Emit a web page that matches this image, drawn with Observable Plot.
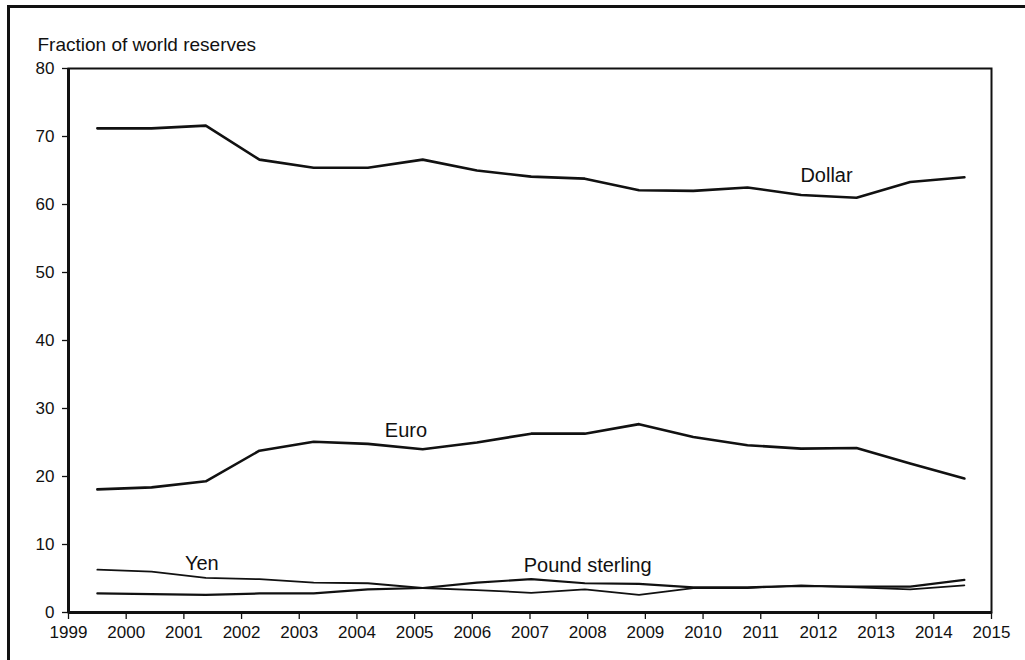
<!DOCTYPE html>
<html>
<head>
<meta charset="utf-8">
<script src="https://cdn.jsdelivr.net/npm/d3@7"></script>
<script src="https://cdn.jsdelivr.net/npm/@observablehq/plot@0.6"></script>
<style>
  html, body { margin: 0; padding: 0; background: #fff; }
  #wrap { position: relative; width: 1025px; height: 660px; overflow: hidden; }
  #border { position: absolute; left: 7px; top: 5px; width: 1040px; height: 680px;
            border-left: 3px solid #111; border-top: 3px solid #111; pointer-events: none; }
  #chart { position: absolute; left: 0; top: 0; }
</style>
</head>
<body>
<div id="wrap"><div id="chart"></div><div id="border"></div></div>
<script>
// Observation positions (decimal years, as drawn on the original axis)
const period = [1999.50, 2000.44, 2001.38, 2002.31, 2003.25, 2004.19, 2005.14, 2006.08,
                2007.02, 2007.95, 2008.89, 2009.83, 2010.77, 2011.70, 2012.66, 2013.59, 2014.53];
// Share of world reserves (%)
const dollar = [71.2, 71.2, 71.6, 66.6, 65.4, 65.4, 66.6, 65.0, 64.1, 63.8, 62.1, 62.0, 62.5, 61.4, 61.0, 63.3, 64.0];
const euro   = [18.1, 18.4, 19.3, 23.8, 25.1, 24.8, 24.0, 25.0, 26.3, 26.3, 27.7, 25.8, 24.6, 24.1, 24.2, 21.9, 19.7];
const yen    = [6.3, 6.0, 5.1, 4.9, 4.4, 4.3, 3.6, 3.3, 2.9, 3.4, 2.6, 3.6, 3.6, 4.0, 3.7, 3.4, 4.0];
const pound  = [2.8, 2.7, 2.6, 2.8, 2.8, 3.4, 3.6, 4.4, 4.9, 4.3, 4.2, 3.7, 3.7, 3.9, 3.8, 3.8, 4.8];

const seriesNames = ["Dollar", "Euro", "Yen", "Pound sterling"];
const seriesValues = [dollar, euro, yen, pound];
const seriesWidth = [2.6, 2.6, 1.8, 2.2];

// Inline series labels (position in data units)
const labelText = ["Dollar", "Euro", "Yen", "Pound sterling"];
const labelX = [2012.14, 2004.85, 2001.31, 2008.0];
const labelY = [64.3, 26.8, 7.2, 6.9];

const xTicks = d3.range(1999, 2016);
const yTicks = [0, 10, 20, 30, 40, 50, 60, 70, 80];
const yTitle = "Fraction of world reserves";

const rows = [];
seriesNames.forEach((name, s) => {
  period.forEach((p, i) => rows.push({series: name, t: p, v: seriesValues[s][i], w: seriesWidth[s]}));
});
const labels = labelText.map((t, i) => ({text: t, x: labelX[i], y: labelY[i]}));

const lineMarks = seriesNames.map((name, s) =>
  Plot.line(rows.filter(r => r.series === name), {
    x: "t", y: "v", stroke: "#111", strokeWidth: seriesWidth[s], curve: "linear"
  })
);

const chart = Plot.plot({
  width: 1025,
  height: 660,
  marginLeft: 68,
  marginRight: 34,
  marginTop: 68,
  marginBottom: 48,
  style: { background: "transparent", fontFamily: "'Liberation Sans', Arial, Helvetica, sans-serif", color: "#111" },
  x: { domain: [1999, 2015] },
  y: { domain: [0, 80] },
  marks: [
    Plot.frame({ stroke: "#111", strokeWidth: 2 }),
    Plot.axisX({ ticks: xTicks, tickFormat: d => String(d), tickSize: 7, tickPadding: 6,
                 fontSize: 17, stroke: "#111", strokeWidth: 1.3, label: null }),
    Plot.axisY({ ticks: yTicks, tickSize: 6, tickPadding: 8, fontSize: 17,
                 stroke: "#111", strokeWidth: 1.3, label: null }),
    Plot.ruleX([1999], { stroke: "#111", strokeWidth: 3 }),
    Plot.ruleY([0], { stroke: "#111", strokeWidth: 3 }),
    ...lineMarks,
    Plot.text(labels, { x: "x", y: "y", text: "text", fontSize: 20, fill: "#111" }),
    Plot.text([yTitle], { frameAnchor: "top-left", dx: -31, dy: -31, textAnchor: "start",
                          fontSize: 19, fill: "#111" })
  ]
});
document.getElementById("chart").appendChild(chart);
</script>
</body>
</html>
